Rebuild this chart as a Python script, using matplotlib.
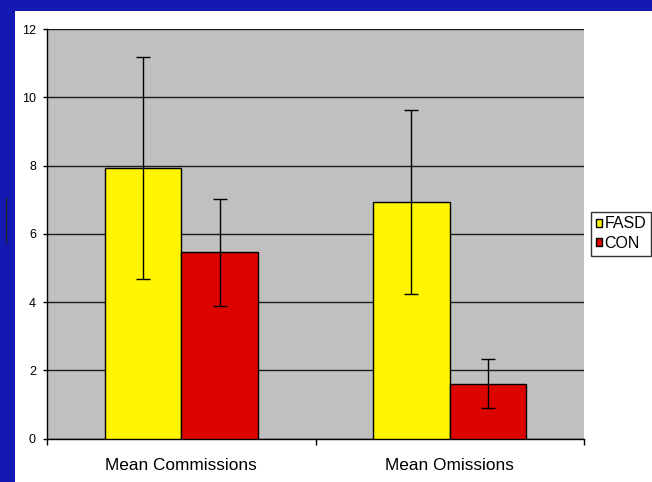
import matplotlib
matplotlib.use("Agg")
import matplotlib.pyplot as plt
import numpy as np
from matplotlib.lines import Line2D
from matplotlib.patches import Rectangle

categories = ["Mean Commissions", "Mean Omissions"]
groups = ["FASD", "CON"]
fasd_mean = [7.93, 6.93]
fasd_err = [3.25, 2.70]
con_mean = [5.46, 1.61]
con_err = [1.57, 0.71]
y_ticks = [0, 2, 4, 6, 8, 10, 12]

plt.rcParams["font.family"] = ["Liberation Sans", "DejaVu Sans"]

W, H = 652, 482
fig = plt.figure(figsize=(W / 100, H / 100), dpi=100)
fig.patch.set_facecolor("white")

# slide decoration: blue strips at top and left
blue = "#1419B4"
fig.add_artist(Rectangle((0, 1 - 11 / H), 1, 11 / H, transform=fig.transFigure,
                         facecolor=blue, edgecolor="none"))
fig.add_artist(Rectangle((0, 0), 15 / W, 1, transform=fig.transFigure,
                         facecolor=blue, edgecolor="none"))
fig.add_artist(Line2D([5.5 / W, 5.5 / W], [1 - 197 / H, 1 - 243 / H],
                      transform=fig.transFigure, color="#222222", lw=1))

ax = fig.add_axes([47 / W, 1 - 438.6 / H, (584 - 47) / W, (438.6 - 29) / H])
ax.set_facecolor("#C0C0C0")

x = np.arange(len(categories))
bw = 1 / 3.5
colors = ["#FFF500", "#DC0400"]
err_kw = dict(ecolor="black", elinewidth=1, capsize=5, capthick=1)
ax.bar(x - bw / 2, fasd_mean, bw, yerr=fasd_err, color=colors[0],
       edgecolor="black", linewidth=1, error_kw=err_kw, label=groups[0], zorder=3)
ax.bar(x + bw / 2, con_mean, bw, yerr=con_err, color=colors[1],
       edgecolor="black", linewidth=1, error_kw=err_kw, label=groups[1], zorder=3)

ax.set_xlim(-0.5, 1.5)
ax.set_ylim(0, 12)
ax.set_yticks(y_ticks)
ax.set_yticklabels([str(v) for v in y_ticks], fontsize=9)
ax.yaxis.grid(True, color="#1a1a1a", lw=1, zorder=1)
ax.set_axisbelow(True)

ax.set_xticks([-0.5, 0.5, 1.5])
ax.set_xticklabels([])
ax.set_xticks(x, minor=True)
ax.set_xticklabels(categories, minor=True, fontsize=12.4)
ax.tick_params(axis="x", which="minor", length=0, pad=14)
ax.tick_params(axis="x", which="major", length=4, width=1, direction="out")
ax.tick_params(axis="y", length=3, width=1, direction="out", pad=5)

for side in ["top", "right"]:
    ax.spines[side].set_visible(False)
for side in ["left", "bottom"]:
    ax.spines[side].set_color("black")
    ax.spines[side].set_linewidth(1)

leg = fig.legend(loc="upper left", bbox_to_anchor=(591 / W, 1 - 211.5 / H),
                 fontsize=11.5, frameon=True, fancybox=False, shadow=False,
                 handlelength=0.38, handleheight=0.38, handletextpad=0.15,
                 borderpad=0.3, labelspacing=0.3, borderaxespad=0)
leg.get_frame().set_edgecolor("black")
leg.get_frame().set_linewidth(1)

fig.savefig("out.png", dpi=100)
